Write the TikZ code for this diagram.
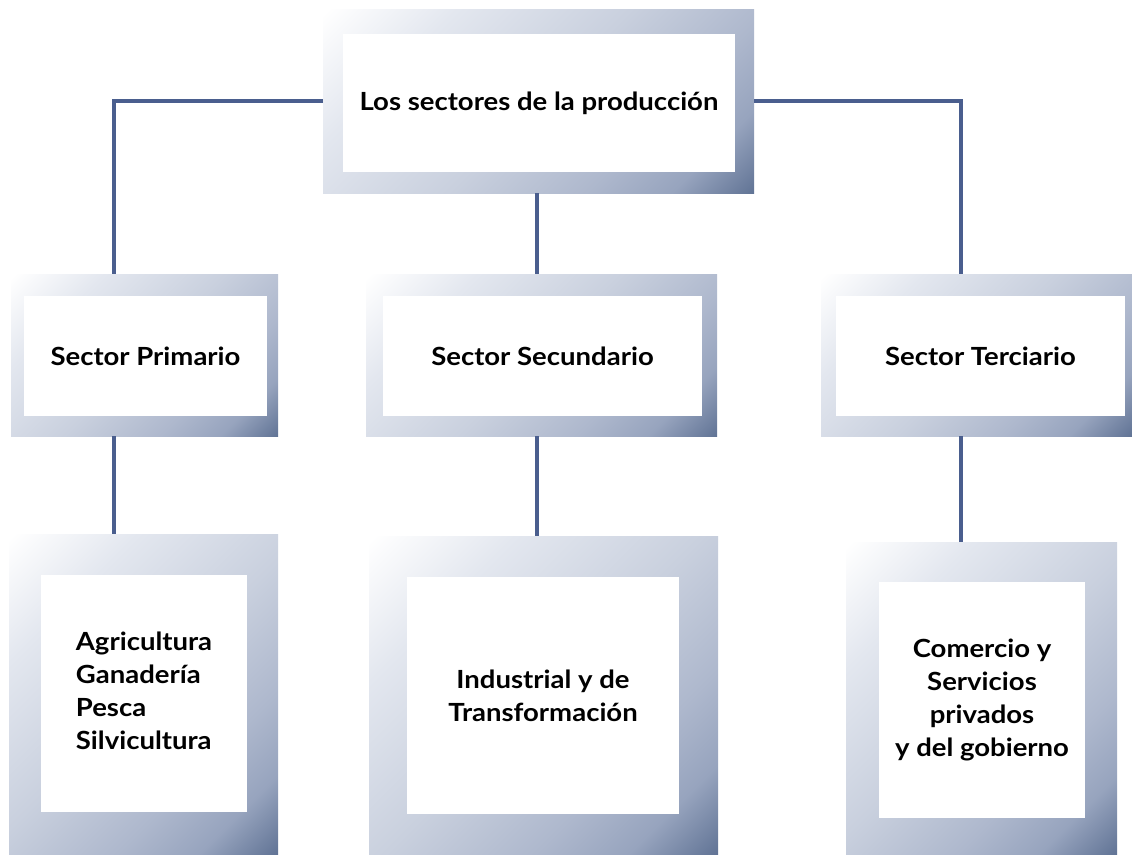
\documentclass[tikz,border=0pt]{standalone}
\usepackage{fontspec}
\setmainfont[FakeStretch=1.1]{Lato}
\usetikzlibrary{calc}
\definecolor{linecol}{HTML}{4A5E8E}
\definecolor{shA}{HTML}{E3E7EF}
\definecolor{shB}{HTML}{C9D0DE}
\definecolor{shC}{HTML}{AEB8CD}
\definecolor{shD}{HTML}{97A4BE}
\definecolor{shE}{HTML}{5E7193}
\pgfdeclarehorizontalshading{frameshade}{100bp}{%
  color(0bp)=(white); color(15bp)=(white);
  color(30bp)=(shA); color(50bp)=(shB);
  color(66bp)=(shC); color(76bp)=(shD);
  color(86bp)=(shE); color(100bp)=(shE)}
\tikzset{
  framebox/.style={rectangle, inner sep=0pt, outer sep=0pt, shading=frameshade, shading angle=-45},
  whitebox/.style={rectangle, fill=white, inner sep=0pt, outer sep=0pt, align=center,
    font=\fontsize{25}{33}\selectfont\bfseries},
  link/.style={draw=linecol, line width=4pt}
}
\begin{document}
\begin{tikzpicture}[x=1pt,y=-1pt]
\useasboundingbox[fill=white] (0,0) rectangle (1132,854);
% outer frames
\node[framebox, minimum width=431pt, minimum height=184pt] (top) at (538.5,101) {};
\node[framebox, minimum width=267pt, minimum height=162pt] (sp) at (144.5,355) {};
\node[framebox, minimum width=351pt, minimum height=162pt] (ss) at (541.5,355) {};
\node[framebox, minimum width=311pt, minimum height=162pt] (st) at (976.5,355) {};
\node[framebox, minimum width=269pt, minimum height=320pt] (b1) at (143.5,694) {};
\node[framebox, minimum width=349pt, minimum height=318pt] (b2) at (543.5,695) {};
\node[framebox, minimum width=271pt, minimum height=312pt] (b3) at (981.5,698) {};
% inner white boxes with text
\node[whitebox, minimum width=392pt, minimum height=138pt] (topt) at (539,103) {Los sectores de la producción};
\node[whitebox, minimum width=243pt, minimum height=120pt] (spt) at (145.5,356) {Sector Primario};
\node[whitebox, minimum width=319pt, minimum height=120pt] (sst) at (542.5,356) {Sector Secundario};
\node[whitebox, minimum width=289pt, minimum height=120pt] (stt) at (980.5,356) {Sector Terciario};
\node[whitebox, minimum width=206pt, minimum height=237pt] (b1t) at (144,693.5) {\begin{tabular}{@{}l@{}}Agricultura\\Ganadería\\Pesca\\Silvicultura\end{tabular}};
\node[whitebox, minimum width=272pt, minimum height=237pt] (b2t) at (543,695.5) {Industrial y de\\Transformación};
\node[whitebox, minimum width=206pt, minimum height=236pt] (b3t) at (982,700) {Comercio y\\Servicios\\privados\\y del gobierno};
% connectors
\coordinate (lc) at (114,101);
\coordinate (mc) at (537,101);
\coordinate (rc) at (961,101);
\draw[link] (top.west |- lc) -- (lc) -- (lc |- sp.north);
\draw[link] (top.east |- rc) -- (rc) -- (rc |- st.north);
\draw[link] (mc |- top.south) -- (mc |- ss.north);
\draw[link] (lc |- sp.south) -- (lc |- b1.north);
\draw[link] (mc |- ss.south) -- (mc |- b2.north);
\draw[link] (rc |- st.south) -- (rc |- b3.north);
\end{tikzpicture}
\end{document}
